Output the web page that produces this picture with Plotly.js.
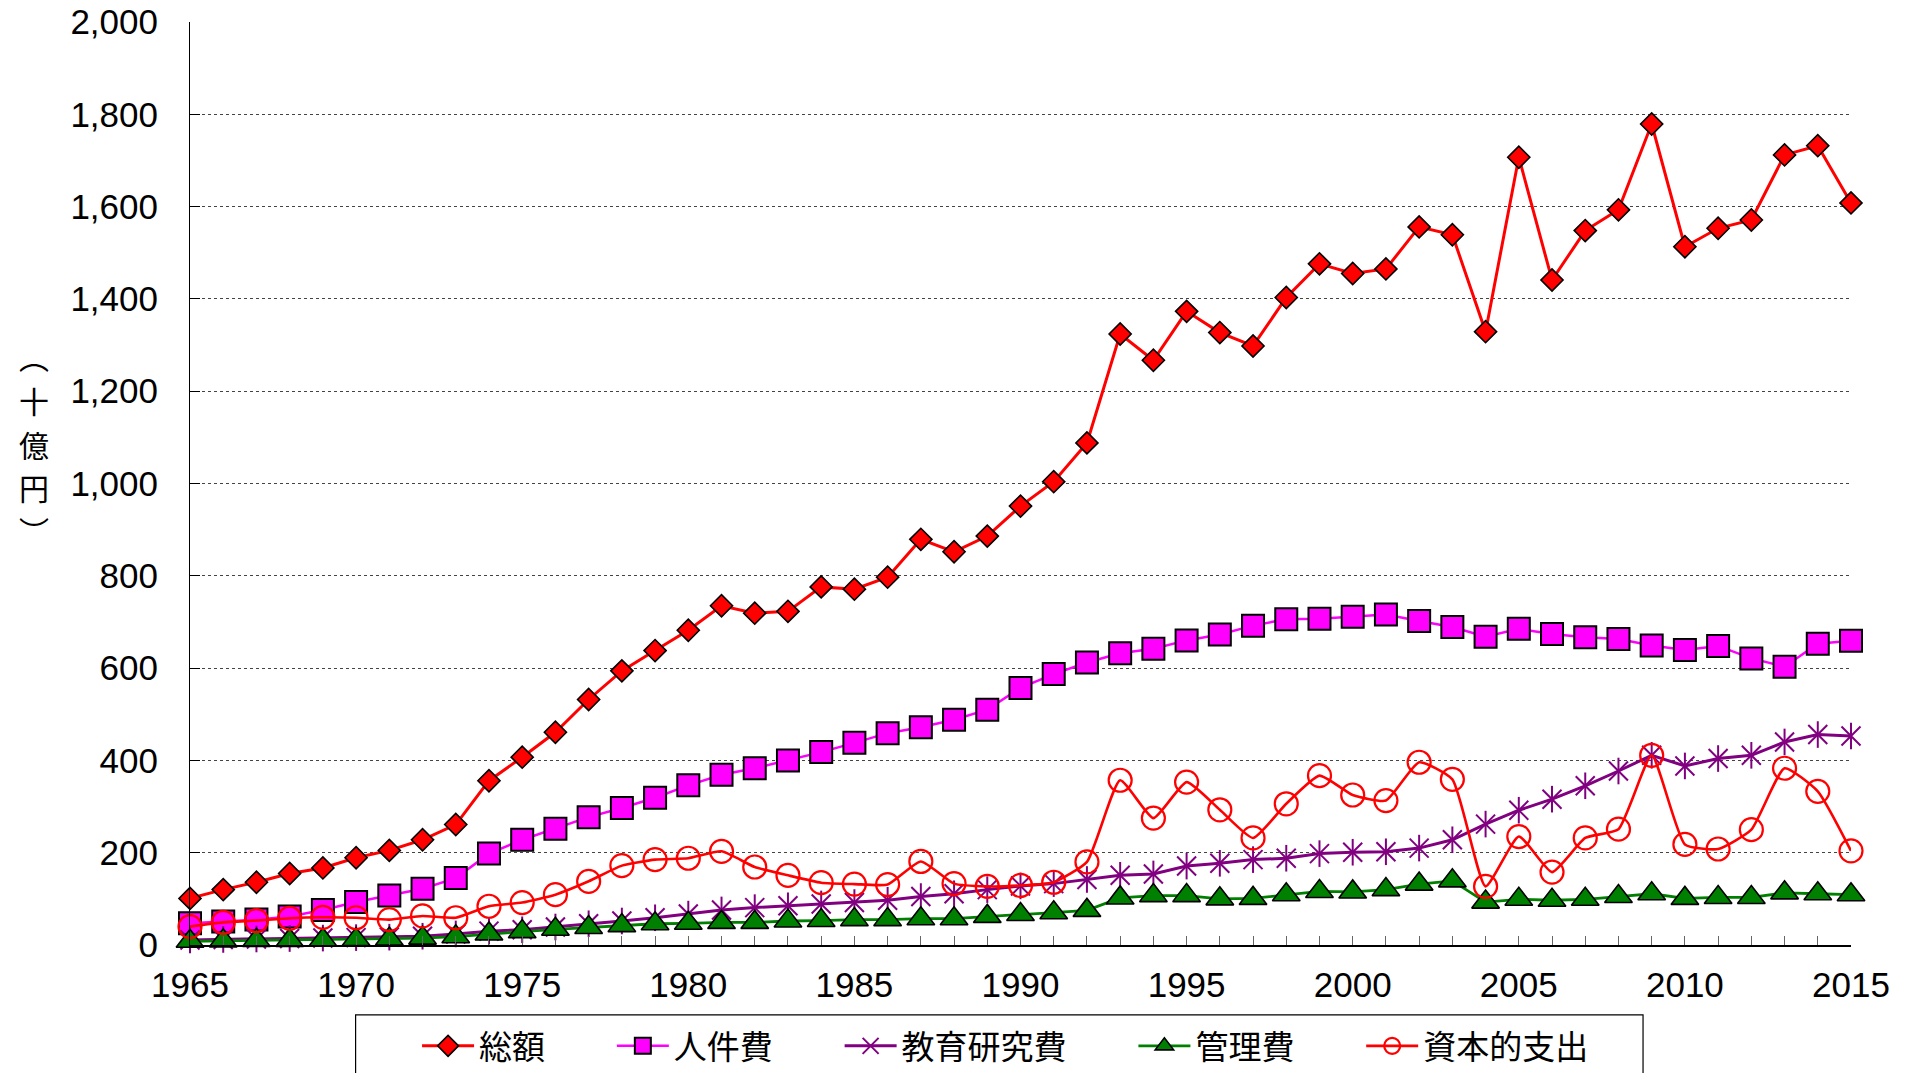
<!DOCTYPE html>
<html><head><meta charset="utf-8">
<script src="https://cdn.plot.ly/plotly-3.0.1.min.js"></script>
<style>html,body{margin:0;padding:0;background:#fff}#chart{width:1911px;height:1073px}</style>
</head><body><div id="chart"></div>
<script>
const years = [1965,1966,1967,1968,1969,1970,1971,1972,1973,1974,1975,1976,1977,1978,1979,1980,1981,1982,1983,1984,1985,1986,1987,1988,1989,1990,1991,1992,1993,1994,1995,1996,1997,1998,1999,2000,2001,2002,2003,2004,2005,2006,2007,2008,2009,2010,2011,2012,2013,2014,2015];
const total = [101,120,136,155,167,189,205,228,261,356,407,461,532,594,638,682,735,719,723,776,771,797,879,852,886,951,1004,1088,1324,1267,1373,1327,1298,1403,1476,1455,1465,1556,1539,1329,1707,1441,1548,1593,1779,1513,1553,1571,1712,1732,1608];
const personnel = [47,51,55,62,76,93,107,122,145,198,228,252,277,297,319,346,369,383,400,418,438,459,472,488,510,557,587,612,632,642,660,673,692,706,707,711,716,702,689,668,685,674,667,663,649,639,648,621,603,653,659];
const eduResearch = [11,12,13,14,15,16,17,19,24,30,33,39,46,52,59,67,76,81,85,89,92,97,105,111,120,128,133,142,151,154,171,177,185,188,198,201,202,210,228,262,292,316,345,377,411,388,404,411,440,456,453];
const admin = [8,9,10,10,11,12,13,15,18,24,29,34,38,42,46,47,49,49,52,53,55,55,57,57,62,66,70,75,102,107,107,100,101,109,116,115,120,132,139,93,99,97,99,105,111,101,103,103,113,111,109];
const capital = [40,49,53,58,60,59,55,63,59,84,92,109,138,172,185,188,203,169,151,135,132,131,181,133,127,129,136,180,357,275,353,293,232,306,367,325,313,396,359,127,235,158,232,251,411,218,208,250,383,333,204];
const seriesNames = ['総額','人件費','教育研究費','管理費','資本的支出'];
const majorYears = [1965,1970,1975,1980,1985,1990,1995,2000,2005,2010,2015];
const yTickVals = [0,200,400,600,800,1000,1200,1400,1600,1800,2000];
const yTickText = ['0','200','400','600','800','1,000','1,200','1,400','1,600','1,800','2,000'];
const gridVals = [200,400,600,800,1000,1200,1400,1600,1800];
const yTitleChars = ['︵','十','億','円','︶'];

const pad = '\u3000\u00a0\u00a0\u00a0\u2009';
const traces = [
  {x: years, y: total, name: seriesNames[0] + pad, type: 'scatter', mode: 'lines+markers', cliponaxis: false,
   line: {color: '#FF0000', width: 3},
   marker: {symbol: 'diamond', size: 17, color: '#FF0000', line: {color: '#000', width: 1.6}}},
  {x: years, y: personnel, name: seriesNames[1] + pad, type: 'scatter', mode: 'lines+markers', cliponaxis: false,
   line: {color: '#FF00FF', width: 2.5},
   marker: {symbol: 'square', size: 22, color: '#FF00FF', line: {color: '#000', width: 2}}},
  {x: years, y: eduResearch, name: seriesNames[2] + pad, type: 'scatter', mode: 'lines+markers', cliponaxis: false,
   line: {color: '#800080', width: 3}, legendgroup: 'edu',
   marker: {symbol: 'x-thin-open', size: 19, color: '#800080', line: {color: '#800080', width: 2}}},
  {x: years, y: eduResearch, name: seriesNames[2], type: 'scatter', mode: 'markers', cliponaxis: false,
   showlegend: false, legendgroup: 'edu', hoverinfo: 'skip',
   marker: {symbol: 'line-ns-open', size: 19, color: '#800080', line: {color: '#800080', width: 2}}},
  {x: years, y: admin, name: seriesNames[3] + pad, type: 'scatter', mode: 'lines+markers', cliponaxis: false,
   line: {color: '#008000', width: 2.8},
   marker: {symbol: 'triangle-up', size: 24, color: '#008000', line: {color: '#000', width: 1.6}}},
  {x: years, y: capital, name: seriesNames[4], type: 'scatter', mode: 'lines+markers', cliponaxis: false,
   line: {color: '#FF0000', width: 2.6, shape: 'spline', smoothing: 0.5},
   marker: {symbol: 'circle-open', size: 23, color: '#FF0000', line: {color: '#FF0000', width: 2.2}}}
];

const tickFont = {family: '"Liberation Sans", Arial, sans-serif', size: 35, color: '#000'};
const titleY = [0.6376, 0.5905, 0.5433, 0.4962, 0.4491];
const layout = {
  width: 1911, height: 1073,
  margin: {l: 190, r: 60, t: 22, b: 128, autoexpand: false},
  paper_bgcolor: '#fff', plot_bgcolor: '#fff',
  showlegend: true,
  xaxis: {
    range: [1965, 2015], tickmode: 'array', tickvals: majorYears, ticktext: majorYears.map(String),
    ticks: 'inside', ticklen: 9, tickwidth: 1, tickcolor: '#666',
    minor: {dtick: 1, tick0: 1965, ticks: 'inside', ticklen: 9, tickwidth: 1, tickcolor: '#666', showgrid: false},
    showline: true, linecolor: '#000', linewidth: 1.5, showgrid: false, zeroline: false,
    tickfont: tickFont, ticklabelstandoff: 8
  },
  yaxis: {
    range: [0, 2000], tickmode: 'array', tickvals: yTickVals, ticktext: yTickText,
    ticks: 'inside', ticklen: 10, tickwidth: 1, tickcolor: '#000',
    minor: {tickmode: 'array', tickvals: gridVals, ticks: '', showgrid: true, gridcolor: '#444', griddash: 'dot', gridwidth: 1},
    showline: true, linecolor: '#000', linewidth: 1, showgrid: false, zeroline: false,
    tickfont: tickFont, ticklabelstandoff: 24
  },
  legend: {
    orientation: 'h', x: 0.1367, xanchor: 'left', y: -0.079, yanchor: 'top',
    font: {family: '"Noto Sans CJK JP", sans-serif', size: 33, color: '#000'},
    bgcolor: 'rgba(0,0,0,0)', borderwidth: 0, itemwidth: 52, traceorder: 'normal'
  },
  shapes: [
    {type: 'rect', xref: 'paper', yref: 'paper', x0: 0.0997, x1: 0.8748, y0: -0.0758, y1: -0.2,
     line: {color: '#000', width: 1.2}, fillcolor: 'rgba(0,0,0,0)'}
  ],
  annotations: yTitleChars.map((c, i) => ({
    text: c, xref: 'paper', yref: 'paper', x: -0.0939, y: titleY[i], xanchor: 'center', yanchor: 'middle',
    borderpad: 0,
    showarrow: false, font: {family: '"Noto Sans CJK JP", sans-serif', size: 30, color: '#000'}
  }))
};
Plotly.newPlot('chart', traces, layout, {displayModeBar: false, staticPlot: true});
</script></body></html>
